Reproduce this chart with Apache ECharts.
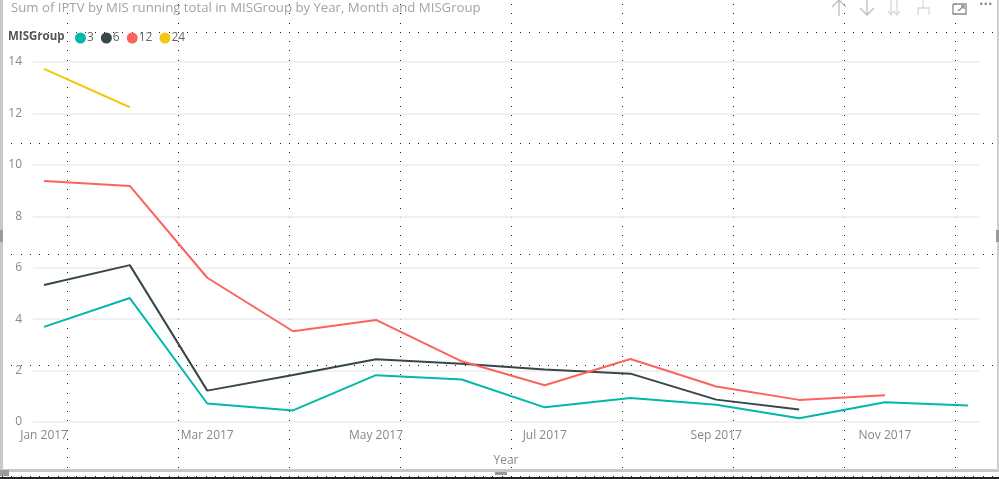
<!DOCTYPE html>
<html>
<head>
<meta charset="utf-8">
<script src="https://cdn.jsdelivr.net/npm/echarts@6/dist/echarts.min.js"></script>
<style>
  html, body { margin: 0; padding: 0; width: 999px; height: 479px; overflow: hidden; background: #fff; }
  #bg {
    position: absolute; left: 0; top: 0; width: 999px; height: 479px;
    background-image: url("data:image/svg+xml;utf8,<svg xmlns='http://www.w3.org/2000/svg' width='111' height='111'><g fill='%23222'><rect x='0' y='0' width='1' height='1'/><rect x='0' y='9' width='1' height='1'/><rect x='0' y='18' width='1' height='1'/><rect x='0' y='28' width='1' height='1'/><rect x='0' y='37' width='1' height='1'/><rect x='0' y='46' width='1' height='1'/><rect x='0' y='55' width='1' height='1'/><rect x='0' y='65' width='1' height='1'/><rect x='0' y='74' width='1' height='1'/><rect x='0' y='83' width='1' height='1'/><rect x='0' y='92' width='1' height='1'/><rect x='0' y='102' width='1' height='1'/><rect x='9' y='0' width='1' height='1'/><rect x='18' y='0' width='1' height='1'/><rect x='28' y='0' width='1' height='1'/><rect x='37' y='0' width='1' height='1'/><rect x='46' y='0' width='1' height='1'/><rect x='55' y='0' width='1' height='1'/><rect x='65' y='0' width='1' height='1'/><rect x='74' y='0' width='1' height='1'/><rect x='83' y='0' width='1' height='1'/><rect x='92' y='0' width='1' height='1'/><rect x='102' y='0' width='1' height='1'/></g></svg>");
    background-size: 111px 111px;
    background-position: 67px 32px;
  }
  #frame {
    position: absolute; left: 0; top: -4px; width: 994px; height: 473px;
    border-left: 3px solid #c8c8c8; border-right: 3px solid #d0d0d0; border-bottom: 3px solid #c8c8c8;
  }
  .h { position: absolute; background: #9a9a9a; }
  #blk { position: absolute; left: 0; top: 477px; width: 999px; height: 2px; background: #222; }
  #chart { position: absolute; left: 0; top: 0; width: 999px; height: 479px; }
</style>
</head>
<body>
<div id="bg"></div>
<div id="frame"></div>
<div class="h" style="left:0;top:230px;width:3px;height:12px;"></div>
<div class="h" style="left:996px;top:230px;width:3px;height:12px;"></div>
<div class="h" style="left:495px;top:472px;width:12px;height:3px;"></div>
<div class="h" style="left:0;top:470px;width:9px;height:6px;"></div>
<div id="blk"></div>
<div id="chart"></div>
<script>
// ---- data ----
const months = ['2017-01','2017-02','2017-03','2017-04','2017-05','2017-06','2017-07','2017-08','2017-09','2017-10','2017-11','2017-12'];
const seriesNames = ['3', '6', '12', '24'];
const vals3  = [3.70, 4.82, 0.72, 0.45, 1.82, 1.65, 0.57, 0.93, 0.67, 0.15, 0.77, 0.64];
const vals6  = [5.33, 6.10, 1.22, 1.83, 2.44, 2.27, 2.04, 1.88, 0.87, 0.49, null, null];
const vals12 = [9.37, 9.18, 5.61, 3.53, 3.97, 2.36, 1.43, 2.45, 1.38, 0.86, 1.04, null];
const vals24 = [13.73, 12.24, null, null, null, null, null, null, null, null, null, null];
const xTickMonths = ['2017-01','2017-03','2017-05','2017-07','2017-09','2017-11'];
const monthNames = ['Jan','Feb','Mar','Apr','May','Jun','Jul','Aug','Sep','Oct','Nov','Dec'];

function ts(ym, d) { const p = ym.split('-'); return new Date(+p[0], +p[1] - 1, d || 1).getTime(); }
const colors = ['#01B8AA', '#374649', '#FD625E', '#F2C80F'];
const allVals = [vals3, vals6, vals12, vals24];

const chart = echarts.init(document.getElementById('chart'), null, { renderer: 'canvas' });
const FONT = 'Open Sans';
const ic = (pts, c) => ({ type: 'polyline', shape: { points: pts }, style: { stroke: c, lineWidth: 1.3, fill: null } });
const option = {
  backgroundColor: 'transparent',
  animation: false,
  title: {
    text: 'Sum of IPTV by MIS running total in MISGroup by Year, Month and MISGroup',
    left: 6, top: -3,
    textStyle: { fontFamily: FONT, fontSize: 13.2, fontWeight: 'normal', color: '#a3a3a3' }
  },
  graphic: [
    { type: 'text', left: 8, top: 31, style: { text: 'MISGroup', fontFamily: FONT, fontSize: 11.5, fontWeight: 'bold', fill: '#555' } },
    // header icons (decoration)
    ic([[839, 0], [839, 16]], '#bdbdbd'), ic([[832, 7], [839, 0], [846, 7]], '#bdbdbd'),
    ic([[867, 0], [867, 15]], '#bdbdbd'), ic([[860, 8], [867, 15], [874, 8]], '#bdbdbd'),
    ic([[891, 0], [891, 15]], '#d8d8d8'), ic([[897, 0], [897, 15]], '#d8d8d8'),
    ic([[888, 11], [891, 15], [894, 11]], '#d8d8d8'), ic([[894, 11], [897, 15], [900, 11]], '#d8d8d8'),
    ic([[923, 0], [923, 8]], '#d8d8d8'), ic([[918, 15], [918, 8], [929, 8], [929, 15]], '#d8d8d8'),
    ic([[953, 4], [966, 4], [966, 14], [953, 14], [953, 4]], '#8a8a8a'),
    ic([[958, 11], [964, 6]], '#8a8a8a'), ic([[961, 6], [964, 6], [964, 9]], '#8a8a8a'),
    { type: 'text', left: 979, top: -1, style: { text: '···', fontFamily: 'DejaVu Sans', fontSize: 12, fontWeight: 'bold', fill: '#8a8a8a' } }
  ],
  legend: {
    data: seriesNames,
    left: 70, top: 27,
    icon: 'circle', itemWidth: 11, itemHeight: 11, itemGap: 7,
    textStyle: { fontFamily: FONT, fontSize: 12, color: '#666', padding: [0, 0, 0, -4] }
  },
  grid: { left: 33, right: 20, top: 62, bottom: 57, containLabel: false },
  xAxis: {
    type: 'value',
    min: ts('2016-12', 28), max: ts('2017-12', 5),
    name: 'Year', nameLocation: 'middle', nameGap: 33,
    nameTextStyle: { fontFamily: FONT, fontSize: 12, color: '#888' },
    axisLine: { show: false }, axisTick: { show: false }, splitLine: { show: false },
    axisLabel: {
      customValues: xTickMonths.map(m => ts(m)),
      margin: 8,
      fontFamily: FONT, fontSize: 12, color: '#888',
      formatter: v => { const d = new Date(v); return monthNames[d.getMonth()] + ' ' + d.getFullYear(); }
    }
  },
  yAxis: {
    type: 'value', min: 0, max: 14, interval: 2,
    axisLine: { show: false }, axisTick: { show: false },
    splitLine: { lineStyle: { color: '#ececec', width: 1.5 } },
    axisLabel: { margin: 11, fontFamily: FONT, fontSize: 12, color: '#888' }
  },
  series: seriesNames.map((n, i) => ({
    name: n, type: 'line', showSymbol: false, symbol: 'circle',
    lineStyle: { width: 2, color: colors[i] }, itemStyle: { color: colors[i] },
    data: months.map((m, j) => [ts(m), allVals[i][j]]).filter(p => p[1] !== null)
  }))
};
chart.setOption(option);
</script>
</body>
</html>
